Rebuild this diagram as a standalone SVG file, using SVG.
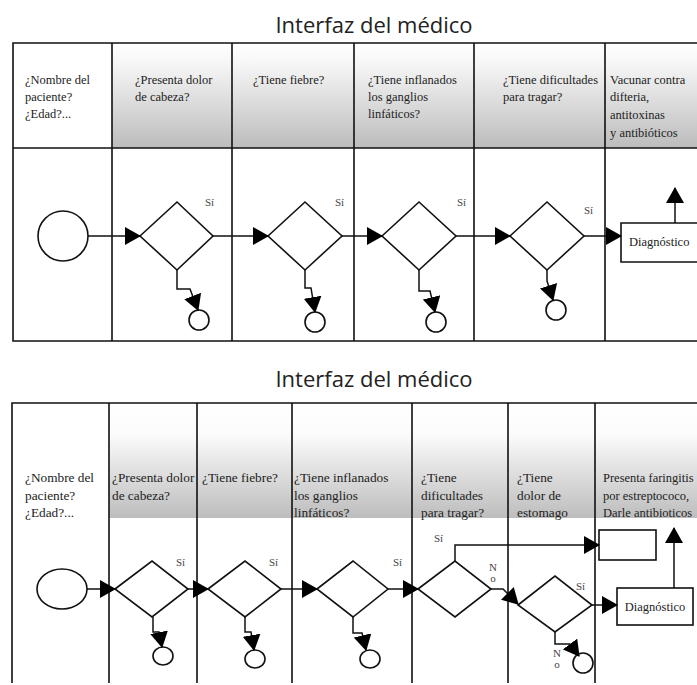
<svg xmlns="http://www.w3.org/2000/svg" width="697" height="685" viewBox="0 0 697 685">
<defs>
  <linearGradient id="gTop" x1="0" y1="0" x2="0" y2="1">
    <stop offset="0" stop-color="#ffffff"/>
    <stop offset="0.2" stop-color="#f6f6f6"/>
    <stop offset="1" stop-color="#bcbcbc"/>
  </linearGradient>
  <linearGradient id="gBot" x1="0" y1="0" x2="0" y2="1">
    <stop offset="0" stop-color="#ffffff"/>
    <stop offset="0.28" stop-color="#fbfbfb"/>
    <stop offset="1" stop-color="#bdbdbd"/>
  </linearGradient>
  <marker id="ah" viewBox="0 0 16 18" refX="15" refY="9" markerWidth="16" markerHeight="18" markerUnits="userSpaceOnUse" orient="auto">
    <path d="M0,0 L16,9 L0,18 z" fill="#000"/>
  </marker>
  <style>
    .title{font-family:"Open Sans","Noto Sans",sans-serif;font-size:22px;fill:#222}
    .hd{font-family:"Liberation Serif","DejaVu Serif",serif;font-size:12.5px;fill:#222}
    .hd2{font-family:"Liberation Serif","DejaVu Serif",serif;font-size:13.3px;fill:#222}
    .hd3{font-family:"Liberation Serif","DejaVu Serif",serif;font-size:12.5px;fill:#222}
    .lbl{font-family:"Liberation Serif","DejaVu Serif",serif;font-size:11px;fill:#444}
    .dg{font-family:"Liberation Serif","DejaVu Serif",serif;font-size:12.5px;fill:#222}
    .tl{stroke:#111;stroke-width:1.6;fill:none}
    .sh{fill:none;stroke:#111;stroke-width:1.6}
    .cn{fill:none;stroke:#111;stroke-width:1.5;marker-end:url(#ah)}
  </style>
</defs>
<rect width="697" height="685" fill="#fff"/>

<!-- ============ TOP DIAGRAM ============ -->
<g id="top-pool">
  <text class="title" x="374" y="33" text-anchor="middle">Interfaz del médico</text>
  <rect x="112" y="43" width="585" height="105" fill="url(#gTop)"/>
  <path class="tl" d="M697,43 H13 V341 H697 M13,148 H697 M112,43 V341 M232,43 V341 M354,43 V341 M474,43 V341 M605,43 V341"/>
</g>
<g id="top-headers">
  <text class="hd" x="25" y="84">¿Nombre del</text>
  <text class="hd" x="25" y="101">paciente?</text>
  <text class="hd" x="25" y="118">¿Edad?...</text>
  <text class="hd" x="135" y="84">¿Presenta dolor</text>
  <text class="hd" x="135" y="101">de cabeza?</text>
  <text class="hd" x="253" y="84">¿Tiene fiebre?</text>
  <text class="hd" x="368" y="84">¿Tiene inflanados</text>
  <text class="hd" x="368" y="101">los ganglios</text>
  <text class="hd" x="368" y="118">linfáticos?</text>
  <text class="hd" x="503" y="84">¿Tiene dificultades</text>
  <text class="hd" x="503" y="101">para tragar?</text>
  <text class="hd" x="610" y="84">Vacunar contra</text>
  <text class="hd" x="610" y="101">difteria,</text>
  <text class="hd" x="610" y="119">antitoxinas</text>
  <text class="hd" x="610" y="137">y antibióticos</text>
</g>
<g id="t-start"><circle class="sh" cx="63" cy="236" r="25"/></g>
<g id="t-d1"><path class="sh" d="M140,236 L177,202 L213,236 L177,270 Z"/><text class="lbl" x="205" y="206">Sí</text></g>
<g id="t-d2"><path class="sh" d="M268,236 L305,202 L342,236 L305,270 Z"/><text class="lbl" x="335" y="206">Sí</text></g>
<g id="t-d3"><path class="sh" d="M382,236 L419,202 L456,236 L419,270 Z"/><text class="lbl" x="457" y="206">Sí</text></g>
<g id="t-d4"><path class="sh" d="M510,236 L547,202 L584,236 L547,270 Z"/><text class="lbl" x="584" y="214">Sí</text></g>
<g id="t-e1"><circle class="sh" cx="199" cy="320" r="10"/></g>
<g id="t-e2"><circle class="sh" cx="315" cy="322" r="10"/></g>
<g id="t-e3"><circle class="sh" cx="436" cy="322" r="10"/></g>
<g id="t-e4"><circle class="sh" cx="556" cy="310" r="10"/></g>
<g id="t-diag"><path class="sh" d="M697,223 H621 V262 H697"/><text class="dg" x="629" y="246">Diagnóstico</text></g>
<g id="top-connectors">
  <path class="cn" d="M88,236 H140"/>
  <path class="cn" d="M213,236 H268"/>
  <path class="cn" d="M342,236 H382"/>
  <path class="cn" d="M456,236 H510"/>
  <path class="cn" d="M584,236 H621"/>
  <path class="cn" d="M675,223 V188"/>
  <path class="cn" d="M177,270 V289 H190 L198,310"/>
  <path class="cn" d="M305,270 V288 H311 L315,312"/>
  <path class="cn" d="M419,270 V291 H430 L435,312"/>
  <path class="cn" d="M547,270 V281 L553,300"/>
</g>

<!-- ============ BOTTOM DIAGRAM ============ -->
<g id="bottom-pool">
  <text class="title" x="374" y="387" text-anchor="middle">Interfaz del médico</text>
  <rect x="109" y="403" width="588" height="115" fill="url(#gBot)"/>
  <path class="tl" d="M697,403 H12 V683 M109,403 V683 M197,403 V683 M292,403 V683 M412,403 V683 M508,403 V683 M595,403 V683"/>
</g>
<g id="bottom-headers">
  <text class="hd2" x="25" y="482">¿Nombre del</text>
  <text class="hd2" x="25" y="500">paciente?</text>
  <text class="hd2" x="25" y="517">¿Edad?...</text>
  <text class="hd2" x="112" y="482">¿Presenta dolor</text>
  <text class="hd2" x="112" y="500">de cabeza?</text>
  <text class="hd2" x="202" y="482">¿Tiene fiebre?</text>
  <text class="hd2" x="294" y="482">¿Tiene inflanados</text>
  <text class="hd2" x="294" y="500">los ganglios</text>
  <text class="hd2" x="294" y="517">linfáticos?</text>
  <text class="hd2" x="421" y="482">¿Tiene</text>
  <text class="hd2" x="421" y="500">dificultades</text>
  <text class="hd2" x="421" y="517">para tragar?</text>
  <text class="hd2" x="517" y="482">¿Tiene</text>
  <text class="hd2" x="517" y="500">dolor de</text>
  <text class="hd2" x="517" y="517">estomago</text>
  <text class="hd3" x="603" y="482">Presenta faringitis</text>
  <text class="hd3" x="603" y="500">por estreptococo,</text>
  <text class="hd3" x="603" y="517">Darle antibioticos</text>
</g>
<g id="b-start"><ellipse class="sh" cx="62" cy="589" rx="25" ry="20"/></g>
<g id="b-d1"><path class="sh" d="M115,589 L152,561 L188,589 L152,617 Z"/><text class="lbl" x="176" y="566">Sí</text></g>
<g id="b-d2"><path class="sh" d="M208,589 L245,561 L281,589 L245,617 Z"/><text class="lbl" x="269" y="566">Sí</text></g>
<g id="b-d3"><path class="sh" d="M317,589 L353,561 L388,589 L353,617 Z"/><text class="lbl" x="393" y="566">Sí</text></g>
<g id="b-d4"><path class="sh" d="M418,589 L455,561 L491,589 L455,617 Z"/>
  <text class="lbl" x="434" y="542">Sí</text>
  <text class="lbl" x="493" y="571" text-anchor="middle">N</text>
  <text class="lbl" x="493" y="582" text-anchor="middle">o</text>
</g>
<g id="b-d5"><path class="sh" d="M518,605 L555,576 L592,605 L555,632 Z"/>
  <text class="lbl" x="576" y="590">Sí</text>
  <text class="lbl" x="557" y="657" text-anchor="middle">N</text>
  <text class="lbl" x="557" y="668" text-anchor="middle">o</text>
</g>
<g id="b-e1"><ellipse class="sh" cx="163" cy="656" rx="10" ry="9"/></g>
<g id="b-e2"><ellipse class="sh" cx="255" cy="659" rx="10" ry="9"/></g>
<g id="b-e3"><ellipse class="sh" cx="370" cy="659" rx="10" ry="9"/></g>
<g id="b-e5"><ellipse class="sh" cx="583" cy="663" rx="10" ry="10"/></g>
<g id="b-box"><rect class="sh" x="599" y="530" width="57" height="30"/></g>
<g id="b-diag"><rect class="sh" x="617" y="588" width="76" height="37"/><text class="dg" x="655" y="611" text-anchor="middle">Diagnóstico</text></g>
<g id="bottom-connectors">
  <path class="cn" d="M87,589 H115"/>
  <path class="cn" d="M188,589 H208"/>
  <path class="cn" d="M281,589 H317"/>
  <path class="cn" d="M388,589 H418"/>
  <path class="cn" d="M455,561 V545 H599"/>
  <path class="cn" d="M491,589 H503 L518,604"/>
  <path class="cn" d="M592,605 H617"/>
  <path class="cn" d="M674,588 V528"/>
  <path class="cn" d="M153,617 V632 H159 L162,647"/>
  <path class="cn" d="M245,617 V632 H251 L254,650"/>
  <path class="cn" d="M353,617 V633 H362 L366,650"/>
  <path class="cn" d="M555,632 V644 H570 L579,656"/>
</g>
</svg>
